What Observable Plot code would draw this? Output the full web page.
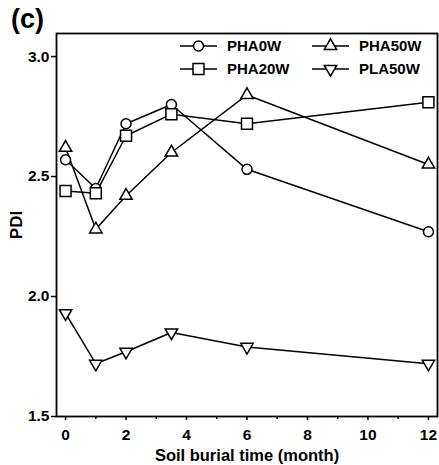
<!DOCTYPE html>
<html><head><meta charset="utf-8">
<script src="https://cdn.jsdelivr.net/npm/d3@7"></script>
<script src="https://cdn.jsdelivr.net/npm/@observablehq/plot@0.6"></script>
<style>
body{margin:0;background:#fff;font-family:"Liberation Sans",Arial,sans-serif;}
#wrap{position:relative;width:439px;height:465px;}
#tag{position:absolute;left:11px;top:4px;font-weight:bold;font-size:27px;line-height:30px;}
#legend{position:absolute;left:0;top:0;}
</style></head><body><div id="wrap"><div id="tag">(c)</div></div>
<script>
const months = [0, 1, 2, 3.5, 6, 12];
const seriesNames = ["PHA0W", "PHA20W", "PHA50W", "PLA50W"];
const pha0w  = [2.57, 2.45, 2.72, 2.80, 2.53, 2.27];
const pha20w = [2.44, 2.43, 2.67, 2.76, 2.72, 2.81];
const pha50w = [2.62, 2.28, 2.42, 2.60, 2.84, 2.55];
const pla50w = [1.93, 1.72, 1.77, 1.85, 1.79, 1.72];
const xTicks = [0, 2, 4, 6, 8, 10, 12];
const xMinorTicks = [1, 3, 5, 7, 9, 11];
const yTicks = [1.5, 2.0, 2.5, 3.0];

const seriesValues = [pha0w, pha20w, pha50w, pla50w];
const symbols = ["circle", "square", "triangle", "triangle"];
const rotations = [0, 0, 0, 180];
const radii = [5, 6.2, 4.6, 4.6];

const data = seriesNames.flatMap((name, i) =>
  months.map((m, j) => ({series: name, month: m, pdi: seriesValues[i][j]})));

const font = "Liberation Sans, Arial, sans-serif";
const marks = [
  Plot.frame({stroke: "#000", strokeWidth: 1.8}),
  Plot.line(data, {x: "month", y: "pdi", z: "series", stroke: "#000", strokeWidth: 1.5}),
  ...seriesNames.map((name, i) =>
    Plot.dot(data.filter(d => d.series === name), {
      x: "month", y: "pdi", symbol: symbols[i], r: radii[i], rotate: rotations[i],
      fill: "#fff", stroke: "#000", strokeWidth: 1.5
    })),
  Plot.axisX({ticks: xTicks, tickSize: 4, tickPadding: 8, label: null, fontSize: 15.5, fontWeight: "bold", strokeWidth: 1.5}),
  Plot.axisX({ticks: xMinorTicks, tickSize: 3, text: null, label: null, strokeWidth: 1.5}),
  Plot.axisY({ticks: yTicks, tickSize: 5, tickPadding: 2, tickFormat: ".1f", label: null, fontSize: 15.5, fontWeight: "bold", strokeWidth: 1.5}),
  Plot.text(["PDI"], {frameAnchor: "left", dx: -40, rotate: -90, fontSize: 17, fontWeight: "bold", lineAnchor: "middle", textAnchor: "middle"}),
  Plot.text(["Soil burial time (month)"], {frameAnchor: "bottom", dy: 39, fontSize: 16.5, fontWeight: "bold", lineAnchor: "middle"})
];

const chart = Plot.plot({
  width: 439, height: 465,
  marginLeft: 56, marginRight: 2, marginTop: 33, marginBottom: 49,
  x: {domain: [-0.3, 12.3]},
  y: {domain: [1.5, 3.096]},
  style: {fontFamily: font, color: "#000", background: "transparent"},
  marks
});
document.getElementById("wrap").appendChild(chart);

// Legend overlay
const legendItems = [
  {name: seriesNames[0], col: 0, row: 0, sym: d3.symbolCircle, r: radii[0], rot: 0},
  {name: seriesNames[1], col: 0, row: 1, sym: d3.symbolSquare, r: radii[1], rot: 0},
  {name: seriesNames[2], col: 1, row: 0, sym: d3.symbolTriangle, r: radii[2], rot: 0},
  {name: seriesNames[3], col: 1, row: 1, sym: d3.symbolTriangle, r: radii[3], rot: 180}
];
const colX = [180, 312];
const rowY = [46, 69];
const lg = d3.select("#wrap").append("svg").attr("id", "legend").attr("width", 439).attr("height", 100);
for (const it of legendItems) {
  const x0 = colX[it.col], y0 = rowY[it.row];
  const g = lg.append("g").attr("transform", `translate(${x0},${y0})`);
  g.append("line").attr("x1", 0).attr("x2", 37).attr("y1", 0).attr("y2", 0).attr("stroke", "#000").attr("stroke-width", 1.5);
  g.append("path").attr("d", d3.symbol(it.sym, Math.PI * it.r * it.r)())
    .attr("transform", `translate(18.5,0) rotate(${it.rot})`)
    .attr("fill", "#fff").attr("stroke", "#000").attr("stroke-width", 1.5);
  g.append("text").attr("x", 47).attr("y", 0).attr("dy", "0.36em")
    .attr("font-family", font).attr("font-weight", "bold").attr("font-size", 15).text(it.name);
}
</script></body></html>
